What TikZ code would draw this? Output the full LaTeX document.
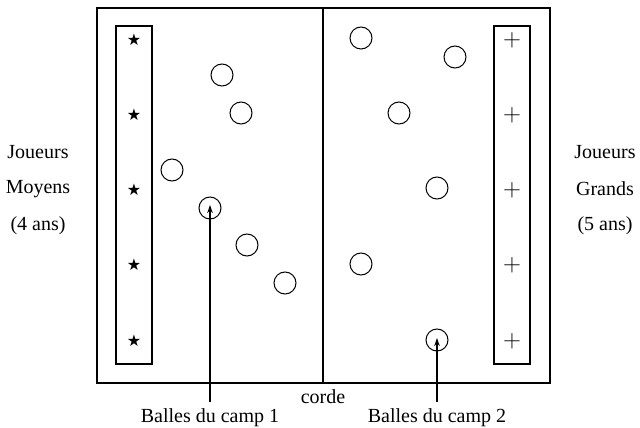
\documentclass[tikz,border=0pt]{standalone}
\usepackage{fontspec}
\setmainfont{Liberation Serif}
\newfontfamily\symfont{DejaVu Sans}
\usetikzlibrary{arrows.meta}
\begin{document}
\begin{tikzpicture}[x=1pt,y=-1pt,
  ball/.style={circle,draw,line width=1pt,minimum size=22pt,inner sep=0pt},
  zone/.style={draw,line width=1.4pt},
  lbl/.style={font=\fontsize{20}{24}\selectfont,inner sep=0pt},
  mk/.style={font=\symfont\fontsize{16}{20}\selectfont,inner sep=0pt},
  pk/.style={font=\fontsize{26}{30}\selectfont,inner sep=0pt},
  ptr/.style={line width=1.2pt,-{Stealth[length=8pt,width=5.5pt]}}]
\useasboundingbox (0,0) rectangle (640,428);
% field
\draw[zone] (97,8) rectangle (550,383);
\draw[zone] (323,8) -- (323,383);
\draw[zone] (116,26) rectangle (152,364);
\draw[zone] (494,26) rectangle (530,364);
% players
\foreach \y [count=\i] in {40,115,190,265,341}{
  \node[mk] (s\i) at (134,\y) {★};
  \node[pk] (p\i) at (512,\y) {$+$};
}
% balls camp 1
\node[ball] (b1) at (222,75) {};
\node[ball] (b2) at (241,113) {};
\node[ball] (b3) at (172,170) {};
\node[ball] (b4) at (210,208) {};
\node[ball] (b5) at (247,245) {};
\node[ball] (b6) at (285,283) {};
% balls camp 2
\node[ball] (c1) at (361,38) {};
\node[ball] (c2) at (455,57) {};
\node[ball] (c3) at (399,113) {};
\node[ball] (c4) at (437,188) {};
\node[ball] (c5) at (361,264) {};
\node[ball] (c6) at (437,340) {};
% labels
\node[lbl] (jl1) at (38,152) {Joueurs};
\node[lbl] (jl2) at (38,189) {Moyens};
\node[lbl] (jl3) at (38,226) {(4 ans)};
\node[lbl] (jr1) at (605,152) {Joueurs};
\node[lbl] (jr2) at (605,189) {Grands};
\node[lbl] (jr3) at (605,226) {(5 ans)};
\node[lbl] (corde) at (323,397) {corde};
\node[lbl,anchor=north] (t1) at (210,408) {Balles du camp 1};
\node[lbl,anchor=north] (t2) at (437,408) {Balles du camp 2};
% arrows
\coordinate (e1) at (210,205);
\coordinate (e2) at (437,338);
\draw[ptr] (t1.north) ++(0,-6) -- (e1);
\draw[ptr] (t2.north) ++(0,-6) -- (e2);
\end{tikzpicture}
\end{document}
